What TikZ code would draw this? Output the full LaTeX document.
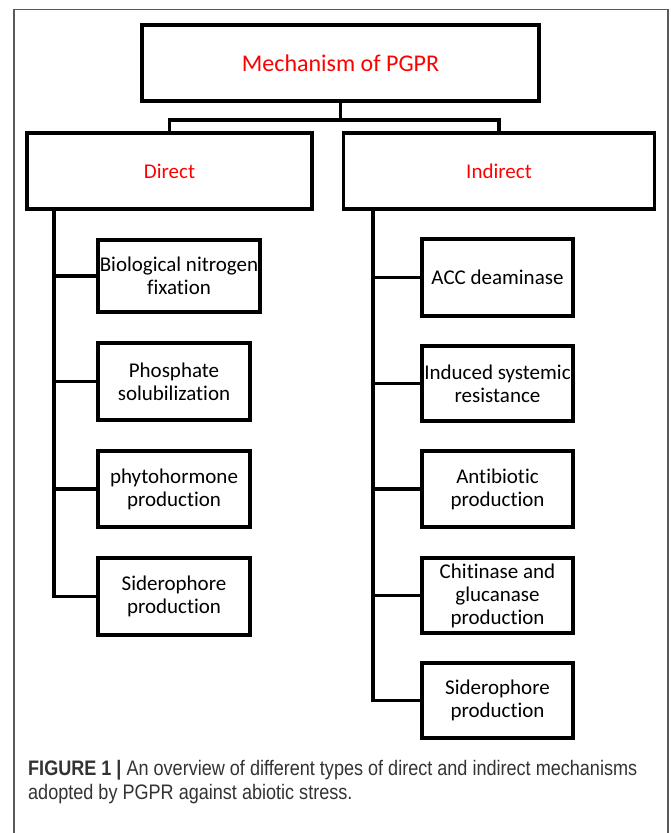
\documentclass[tikz,border=0pt]{standalone}
\usepackage{fontspec}
\setmainfont[Ligatures=NoCommon]{Carlito}
\newfontfamily\capfont[FakeStretch=0.86]{Liberation Sans}
\usetikzlibrary{calc}
\tikzset{
  mbox/.style={draw=black, line width=3.6pt, align=center, inner sep=0pt, font=\fontsize{21}{23}\selectfont},
  conn/.style={draw=black, line width=3.6pt},
  redtxt/.style={text=red}
}
\begin{document}
\begin{tikzpicture}[x=1pt,y=-1pt]
\useasboundingbox (0,0) rectangle (670,833);
\fill[white] (0,0) rectangle (670,833);
% outer frame
\draw[black!65, line width=1.2pt] (14,840) -- (14,9.5) -- (668,9.5) -- (668,840);

% top
\node[mbox, minimum width=397pt, minimum height=76pt, redtxt, font=\fontsize{24}{28}\selectfont] (top) at (340.5,63) {Mechanism of PGPR};
\node[mbox, minimum width=285pt, minimum height=76pt, redtxt] (dir) at (169.5,171) {Direct};
\node[mbox, minimum width=311pt, minimum height=76pt, redtxt] (ind) at (499,171) {Indirect};

% left children
\node[mbox, minimum width=162pt, minimum height=72pt] (L1) at (179,276) {Biological nitrogen\\fixation};
\node[mbox, minimum width=152pt, minimum height=77pt] (L2) at (174,381.5) {Phosphate\\solubilization};
\node[mbox, minimum width=152pt, minimum height=76pt] (L3) at (174,489) {phytohormone\\production};
\node[mbox, minimum width=152pt, minimum height=77pt] (L4) at (174,596.5) {Siderophore\\production};

% right children
\node[mbox, minimum width=151pt, minimum height=77pt] (R1) at (497.5,277.5) {ACC deaminase};
\node[mbox, minimum width=151pt, minimum height=75pt] (R2) at (497.5,383.5) {Induced systemic\\resistance};
\node[mbox, minimum width=151pt, minimum height=76pt] (R3) at (497.5,489) {Antibiotic\\production};
\node[mbox, minimum width=151pt, minimum height=75pt] (R4) at (497.5,595.5) {Chitinase and\\glucanase\\production};
\node[mbox, minimum width=151pt, minimum height=75pt] (R5) at (497.5,700.5) {Siderophore\\production};

% top connectors
\coordinate (mid) at ($(top.south)+(0,17)$);
\draw[conn] (top.south) -- (mid);
\draw[conn] (dir.north) |- (mid) -| (ind.north);

% left trunk
\coordinate (dt) at ($(dir.south west)+(29,0)$);
\draw[conn] (dt) |- (L4.west);
\foreach \n in {L1,L2,L3}{\draw[conn] (\n.west) -- (\n.west -| dt);}

% right trunk
\coordinate (it) at ($(ind.south west)+(31,0)$);
\draw[conn] (it) |- (R5.west);
\foreach \n in {R1,R2,R3,R4}{\draw[conn] (\n.west) -- (\n.west -| it);}

% caption
\node[anchor=base west, inner sep=0pt, align=left, text=black!80, font=\capfont\fontsize{21}{24}\selectfont] (cap) at (28,799)
  {{\bfseries FIGURE 1 |} An overview of different types of direct and indirect mechanisms\\adopted by PGPR against abiotic stress.};
\end{tikzpicture}
\end{document}
